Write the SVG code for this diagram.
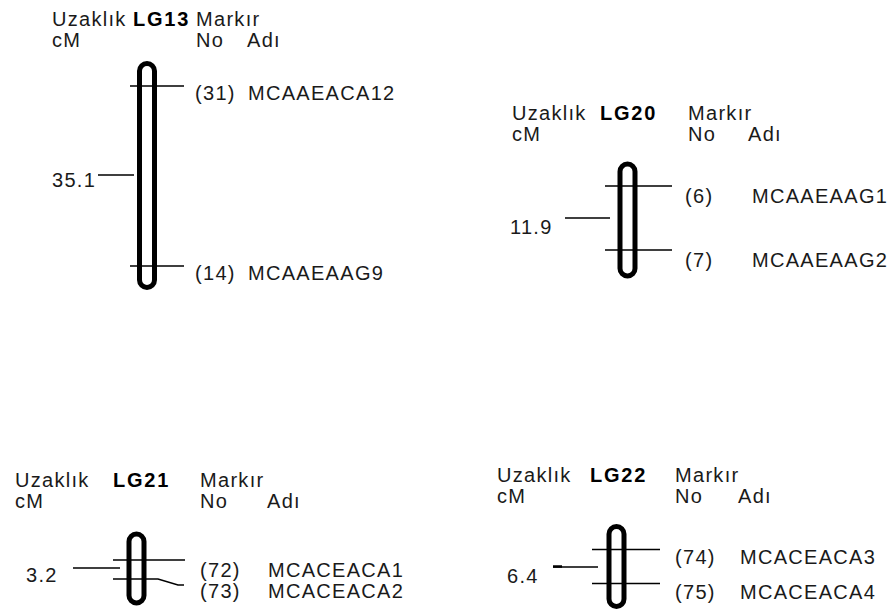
<svg xmlns="http://www.w3.org/2000/svg" width="893" height="612" viewBox="0 0 893 612">
<style>
text{font-family:"Liberation Sans",Arial,sans-serif;font-size:20px;letter-spacing:1.3px;fill:#1a1a1a}
.b{font-weight:bold;letter-spacing:1.8px;fill:#000}
.chr{fill:#fff;stroke:#000;stroke-width:5}
.ln{stroke:#000;stroke-width:1.5;fill:none}
</style>
<rect width="893" height="612" fill="#fff"/>
<g id="LG13">
<text x="52" y="26">Uzaklık</text><text class="b" x="133" y="26">LG13</text><text x="196" y="26">Markır</text>
<text x="52" y="47">cM</text><text x="196" y="47">No</text><text x="247" y="47">Adı</text>
<rect class="chr" x="139.5" y="63.5" width="15" height="224" rx="7.5"/>
<text x="52" y="187">35.1</text>
<text x="195" y="100">(31)</text><text x="248" y="100">MCAAEACA12</text>
<text x="195" y="280">(14)</text><text x="248" y="280">MCAAEAAG9</text>
</g>
<g id="LG20">
<text x="512" y="120">Uzaklık</text><text class="b" x="600" y="120">LG20</text><text x="688" y="120">Markır</text>
<text x="512" y="141">cM</text><text x="688" y="141">No</text><text x="748" y="141">Adı</text>
<rect class="chr" x="620" y="164" width="15" height="112" rx="7.5"/>
<text x="510" y="234">11.9</text>
<text x="685" y="203">(6)</text><text x="752" y="203">MCAAEAAG1</text>
<text x="685" y="267">(7)</text><text x="752" y="267">MCAAEAAG2</text>
</g>
<g id="LG21">
<text x="15" y="487">Uzaklık</text><text class="b" x="113" y="487">LG21</text><text x="200" y="487">Markır</text>
<text x="15" y="508">cM</text><text x="200" y="508">No</text><text x="267" y="508">Adı</text>
<rect class="chr" x="129" y="534" width="15" height="69" rx="7.5"/>
<text x="26" y="582">3.2</text>
<text x="200" y="577">(72)</text><text x="268" y="577">MCACEACA1</text>
<text x="200" y="598">(73)</text><text x="268" y="598">MCACEACA2</text>
</g>
<g id="LG22">
<text x="497" y="482">Uzaklık</text><text class="b" x="590" y="482">LG22</text><text x="675" y="482">Markır</text>
<text x="497" y="503">cM</text><text x="675" y="503">No</text><text x="738" y="503">Adı</text>
<rect class="chr" x="609" y="526.5" width="15" height="80" rx="7.5"/>
<text x="507" y="583">6.4</text>
<text x="675" y="564">(74)</text><text x="740" y="564">MCACEACA3</text>
<text x="675" y="599">(75)</text><text x="740" y="599">MCACEACA4</text>
</g>
<g id="connectors">
<path class="ln" d="M98 175H134M130 86H184M130 266H184"/>
<path class="ln" d="M565 218H610M605 186H672M605 250H672"/>
<path class="ln" d="M73 568H120M113 560H185M113 579H158L178 585H184"/>
<path class="ln" d="M553 567H598M592 549.5H660M592 583.5H660"/>
<path d="M553 566.5H562" stroke="#000" stroke-width="2.5"/>
</g>
</svg>
